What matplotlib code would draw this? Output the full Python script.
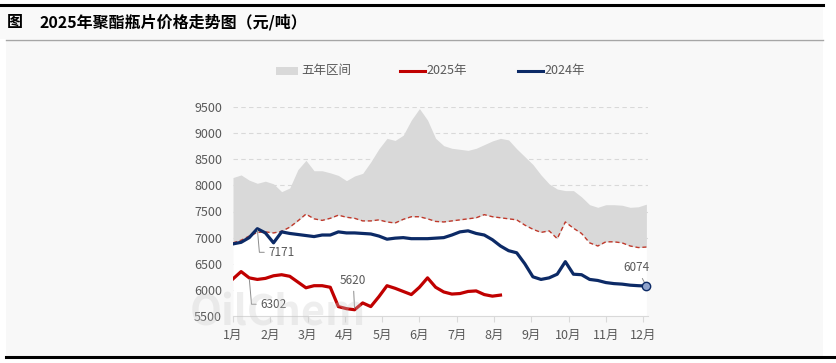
import numpy as np
import matplotlib
matplotlib.use("Agg")
import matplotlib.pyplot as plt
from matplotlib.patches import Rectangle
from matplotlib.lines import Line2D

plt.rcParams['font.family'] = ['Noto Sans CJK SC', 'DejaVu Sans']

# 周度数据（元/吨）
band_max = [8150, 8200, 8100, 8040, 8080, 8030, 7880, 7950, 8300, 8480,
            8280, 8280, 8240, 8190, 8090, 8180, 8230, 8450, 8700, 8900,
            8860, 8960, 9250, 9470, 9250, 8900, 8760, 8710, 8690, 8670,
            8710, 8780, 8850, 8900, 8870, 8700, 8550, 8400, 8200, 8030,
            7930, 7900, 7900, 7780, 7630, 7580, 7630, 7630, 7620, 7580,
            7590, 7640]
band_min = [6900, 6950, 7030, 7100, 7110, 7090, 7120, 7200, 7320, 7450,
            7360, 7330, 7370, 7430, 7390, 7370, 7320, 7320, 7340, 7300,
            7280, 7350, 7400, 7400, 7360, 7310, 7300, 7320, 7340, 7360,
            7380, 7440, 7400, 7380, 7360, 7340, 7240, 7160, 7100, 7130,
            6980, 7300, 7180, 7080, 6900, 6840, 6920, 6920, 6900, 6840,
            6810, 6820]
y2024 = [6880, 6910, 7000, 7171, 7090, 6900, 7110, 7080, 7060, 7040,
         7020, 7050, 7050, 7110, 7090, 7090, 7080, 7070, 7030, 6970,
         6990, 7000, 6980, 6980, 6980, 6990, 7000, 7050, 7110, 7130,
         7080, 7050, 6960, 6840, 6750, 6710, 6500, 6250, 6200, 6230,
         6300, 6540, 6300, 6290, 6200, 6180, 6140, 6120, 6110, 6090,
         6080, 6074]
y2025 = [6210, 6350, 6230, 6200, 6220, 6270, 6290, 6260, 6150, 6040,
         6080, 6080, 6050, 5680, 5640, 5620, 5750, 5680, 5870, 6080,
         6030, 5970, 5910, 6050, 6230, 6050, 5960, 5920, 5930, 5970,
         5980, 5910, 5880, 5900]

months = ['1月', '2月', '3月', '4月', '5月', '6月', '7月', '8月', '9月', '10月', '11月', '12月']
yticks = [5500, 6000, 6500, 7000, 7500, 8000, 8500, 9000, 9500]

# 数据标签: (周序号, 文字)
labels_2024 = [(3, '7171'), (51, '6074')]
labels_2025 = [(2, '6302'), (15, '5620')]

W, H = 836, 363
def fx(x):
    return x / W
def fy(y):
    return 1 - y / H

fig = plt.figure(figsize=(W / 100, H / 100), dpi=100)
fig.patch.set_facecolor('white')

# 标题区与图表底板
fig.patches.append(Rectangle((0, fy(39)), fx(823), fy(5) - fy(39), transform=fig.transFigure,
                             facecolor='#f9f9f9', edgecolor='none', zorder=-2))
fig.patches.append(Rectangle((fx(6), fy(356)), fx(823) - fx(6), fy(40) - fy(356), transform=fig.transFigure,
                             facecolor='#f8f8f8', edgecolor='none', zorder=-2))
fig.lines.append(Line2D([0, fx(823)], [fy(5), fy(5)], transform=fig.transFigure, color='black', lw=2.2))
fig.lines.append(Line2D([fx(6), fx(823)], [fy(39.5), fy(39.5)], transform=fig.transFigure, color='#a6a6a6', lw=1))
fig.lines.append(Line2D([fx(6), fx(836)], [fy(357), fy(357)], transform=fig.transFigure, color='black', lw=2.2))

fig.text(fx(7), fy(22), '图', fontsize=11.5, fontweight='bold', va='center', ha='left')
fig.text(fx(40), fy(22), '2025年聚酯瓶片价格走势图（元/吨）', fontsize=11.5, fontweight='bold',
         va='center', ha='left')

# 图例
fig.patches.append(Rectangle((fx(276), fy(74.5)), fx(22), fy(67) - fy(74.5), transform=fig.transFigure,
                             facecolor='#d9d9d9', edgecolor='none'))
fig.text(fx(301), fy(70.5), '五年区间', fontsize=9, color='#595959', va='center', ha='left')
fig.lines.append(Line2D([fx(400), fx(425)], [fy(70.5), fy(70.5)], transform=fig.transFigure,
                        color='#c00000', lw=2.2))
fig.text(fx(426), fy(70.5), '2025年', fontsize=9, color='#595959', va='center', ha='left')
fig.lines.append(Line2D([fx(518), fx(543)], [fy(70.5), fy(70.5)], transform=fig.transFigure,
                        color='#0c2a66', lw=2.2))
fig.text(fx(544), fy(70.5), '2024年', fontsize=9, color='#595959', va='center', ha='left')

ax = fig.add_axes([fx(233), fy(316), fx(648) - fx(233), fy(107) - fy(316)])
ax.set_zorder(2)
ax.set_facecolor('none')

x = np.arange(len(band_max))
x25 = np.arange(len(y2025))

ax.set_ylim(5500, 9500)
ax.set_xlim(0, 51.2)
ax.set_yticks(yticks)
for v in yticks[1:]:
    ax.axhline(v, color='#d9d9d9', lw=0.8, ls=(0, (4, 3)), zorder=0)

ax.fill_between(x, 5500, band_min, color='white', lw=0, zorder=1)
ax.fill_between(x, band_min, band_max, color='#d9d9d9', lw=0, zorder=1)
ax.plot(x, band_min, color='#c0392b', lw=1, ls=(0, (3, 2)), zorder=2)
ax.plot(x, y2024, color='#0c2a66', lw=2.3, zorder=3, solid_joinstyle='round')
ax.plot(x25, y2025, color='#c00000', lw=2.3, zorder=3, solid_joinstyle='round')
ax.plot([x[-1]], [y2024[-1]], 'o', ms=6, mfc='#8fa3cc', mec='#0c2a66', mew=1, zorder=4, clip_on=False)

ax.set_xticks(np.linspace(0, 50.6, 12))
ax.set_xticklabels(months)
ax.tick_params(axis='x', colors='#d9d9d9', length=4, width=0.8, pad=5, labelsize=9, labelcolor='#595959')
ax.tick_params(axis='y', length=0, pad=8, labelsize=9, labelcolor='#595959')
for s in ['top', 'right', 'left']:
    ax.spines[s].set_visible(False)
ax.spines['bottom'].set_color('#d9d9d9')
ax.spines['bottom'].set_zorder(5)

lead = dict(arrowstyle='-', color='#8c8c8c', lw=0.7, shrinkA=1, shrinkB=1)
i, t = labels_2024[0]
ax.annotate(t, xy=(i, y2024[i]), xytext=(8, -17), textcoords='offset points', fontsize=8.5,
            color='#595959', ha='left', va='center',
            arrowprops=dict(lead, connectionstyle='angle,angleA=180,angleB=95,rad=0'))
i, t = labels_2024[1]
ax.annotate(t, xy=(i, y2024[i]), xytext=(-7, 13), textcoords='offset points', fontsize=8.5,
            color='#595959', ha='center', va='center', arrowprops=dict(lead, shrinkB=3))
i, t = labels_2025[0]
ax.annotate(t, xy=(i, y2025[i]), xytext=(8, -19), textcoords='offset points', fontsize=8.5,
            color='#595959', ha='left', va='center',
            arrowprops=dict(lead, connectionstyle='angle,angleA=180,angleB=95,rad=0'))
i, t = labels_2025[1]
ax.annotate(t, xy=(i, y2025[i]), xytext=(-1, 21), textcoords='offset points', fontsize=8.5,
            color='#595959', ha='center', va='center', arrowprops=lead)

# 水印
fig.text(fx(190), fy(325), 'OilChem', fontsize=30, color='#c8c8c8', alpha=0.3,
         fontweight='bold', ha='left', va='baseline', zorder=10)

fig.savefig('out.png', dpi=100, facecolor=fig.get_facecolor())
